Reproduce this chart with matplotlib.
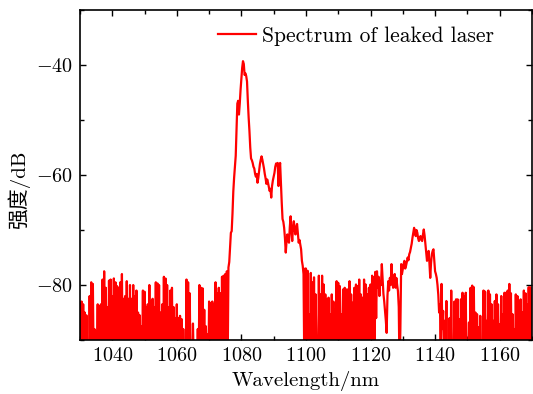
import numpy as np
import matplotlib
matplotlib.use('Agg')
import matplotlib.pyplot as plt
from matplotlib.ticker import MultipleLocator

step = 0.25
segment_start = [1030.0, 1076.5, 1100.0, 1122.0, 1146.0]

# noise floor left of the main peak (1030 - 1076.25 nm)
noise_left = [
    -89, -95, -83, -96, -83.5, -94, -85, -97,
    -85.5, -95, -92, -96, -82, -94, -79.5, -97,
    -79.8, -95, -88, -96, -88.5, -93, -83.5, -97,
    -83.8, -95, -83.5, -96, -79, -94, -77.5, -97,
    -80.5, -95, -84, -96, -79.2, -93, -79, -97,
    -82, -95, -78.8, -96, -79.5, -94, -80.2, -97,
    -80.5, -95, -79.5, -96, -78, -93, -82.5, -97,
    -82, -95, -79.3, -96, -82.5, -94, -80, -97,
    -82.5, -95, -80, -96, -82, -93, -81, -97,
    -85, -95, -85.5, -96, -87.5, -94, -81, -97,
    -81.2, -95, -84, -96, -83.5, -93, -80, -97,
    -83, -95, -82.5, -96, -84, -94, -79.5, -97,
    -79.7, -95, -80, -96, -85, -93, -83.5, -97,
    -78.5, -95, -78.8, -96, -80, -94, -84, -97,
    -81, -95, -80.5, -96, -84, -93, -86, -97,
    -83.5, -95, -86, -96, -85.6, -94, -86.2, -97,
    -88, -95, -92, -96, -79, -93, -79.5, -97,
    -81.5, -95, -93, -96, -87, -94, -93, -97,
    -94, -95, -88, -96, -80, -93, -80.5, -97,
    -80.6, -95, -84.5, -96, -87.5, -94, -89, -97,
    -83, -95, -83.3, -96, -83, -93, -83.5, -97,
    -79.5, -95, -81.5, -96, -80.5, -94, -81.5, -97,
    -78.5, -95, -78.3, -96, -78, -93, -77.5, -95,
    -76.8, -75.8,
]

# main peak (1076.5 - 1099.75 nm)
main_peak = [
    -73, -70.5, -70.2, -67, -63, -60.5, -58.5, -56.5,
    -52, -47, -46.5, -49, -47, -44.5, -42.5, -40.5,
    -39.3, -39.8, -41.8, -41.5, -42, -43, -46.5, -49.5,
    -52, -55, -57, -57.3, -57.8, -58.5, -58.8, -59.8,
    -60.3, -59.8, -61.4, -60.5, -59.3, -58, -57.2, -56.6,
    -57.2, -58, -58.8, -59.8, -60.6, -61.6, -60.8, -61.4,
    -62.2, -62.9, -62.5, -64.1, -62, -61, -60.3, -59.6,
    -58.5, -57.9, -58.2, -57.8, -62, -59, -57.8, -61.6,
    -65, -68, -68.5, -69.6, -71.5, -74.1, -72, -70.8,
    -71.8, -72.3, -69.5, -67.5, -70, -72, -69.5, -68.4,
    -69.8, -70.8, -69.5, -68.9, -70.5, -72.3, -71.8, -72.6,
    -73.5, -75.6, -76.5, -78, -95, -77,
]

# noise between the peaks (1100 - 1121.75 nm)
noise_mid = [
    -77, -95, -77.4, -96, -85.3, -94, -77.8, -97,
    -79.5, -95, -78.6, -96, -81.7, -93, -92, -97,
    -78.3, -95, -81.7, -96, -78.3, -94, -79.9, -97,
    -81.7, -95, -82.6, -96, -82.3, -93, -85.3, -97,
    -81.7, -95, -83, -96, -84.4, -94, -79.3, -97,
    -79.6, -95, -80.2, -96, -85.3, -93, -80.8, -97,
    -80.5, -95, -80.8, -96, -80.8, -94, -79.3, -97,
    -81.7, -95, -83.2, -96, -80.5, -93, -79.9, -97,
    -80.2, -95, -79, -96, -81.7, -94, -82.3, -97,
    -79, -95, -79.9, -96, -81.7, -93, -80.5, -97,
    -79.9, -95, -78.3, -96, -78.6, -94, -77.6, -86,
]

# second hump near 1135 nm (1122 - 1145.75 nm)
hump = [
    -77.5, -80.5, -78.5, -82, -79.3, -80, -76.2, -79,
    -81.6, -83, -84.7, -86.5, -88.7, -82, -79.3, -81,
    -78.7, -80, -76.2, -79, -80.5, -79, -78, -80.5,
    -78.7, -80, -81.1, -84, -96, -88, -76.2, -78,
    -77.1, -76.2, -75.6, -77, -76.5, -75.8, -75, -75.5,
    -74.4, -74, -73.2, -72.5, -71.4, -70.5, -69.6, -70.3,
    -71.1, -70, -70.5, -71.5, -72, -71.3, -71.1, -71.8,
    -72, -70.8, -69.9, -71, -72.6, -74, -75.6, -74.5,
    -73.8, -76, -78.7, -76, -74.4, -73.8, -73.5, -75.5,
    -77.5, -78, -78.7, -80, -81.8, -85, -83.5, -92,
    -79.8, -88, -84.7, -94, -86.5, -95, -82.9, -96,
    -93, -95, -86, -97, -81, -94, -92, -96,
]

# noise floor right of the hump (1146 - 1170 nm)
noise_right = [
    -83, -95, -82.6, -96, -82.6, -94, -86.2, -97,
    -82.6, -95, -81.4, -96, -82, -93, -81.4, -97,
    -93, -95, -86.8, -96, -80.5, -94, -80.1, -97,
    -80.4, -95, -85, -96, -85.3, -93, -87.7, -97,
    -85.6, -95, -93, -96, -81, -94, -81.2, -97,
    -86.5, -95, -81, -96, -81.7, -93, -83.5, -97,
    -86.5, -95, -82.9, -96, -81.7, -94, -83.5, -97,
    -87.1, -95, -82, -96, -85.3, -93, -81.4, -97,
    -81.4, -95, -81, -96, -79.8, -94, -81.5, -97,
    -85.3, -95, -88, -96, -81.7, -93, -82, -97,
    -82.9, -95, -82.6, -96, -85, -94, -81, -97,
    -81.5, -95, -83.5, -96, -80.4, -93, -80.4, -97,
    -82,
]

segments = [noise_left, main_peak, noise_mid, hump, noise_right]
wavelength = np.concatenate([s0 + step * np.arange(len(seg))
                             for s0, seg in zip(segment_start, segments)])
intensity = np.concatenate([np.array(seg, dtype=float) for seg in segments])

plt.rcParams['font.family'] = ['cmr10', 'Noto Sans CJK SC']
plt.rcParams['mathtext.fontset'] = 'cm'
plt.rcParams['axes.formatter.use_mathtext'] = True
plt.rcParams['axes.unicode_minus'] = True

fig = plt.figure(figsize=(5.33, 3.94), dpi=100)
ax = fig.add_axes([0.150, 0.137, 0.848, 0.8375])

ax.plot(wavelength, intensity, color='red', lw=1.6, label='Spectrum of leaked laser')

ax.set_xlim(1030, 1170)
ax.set_ylim(-90, -30)
ax.xaxis.set_major_locator(MultipleLocator(20))
ax.xaxis.set_minor_locator(MultipleLocator(10))
ax.yaxis.set_major_locator(MultipleLocator(20))
ax.yaxis.set_minor_locator(MultipleLocator(10))
ax.tick_params(which='both', direction='in', top=True, right=True, width=1.0)
ax.tick_params(which='major', length=4.5, labelsize=14.5, pad=5)
ax.tick_params(which='minor', length=3)
for sp in ax.spines.values():
    sp.set_linewidth(1.2)

ax.set_xlabel('Wavelength/nm', fontsize=15)
ax.set_ylabel('强度/dB', fontsize=15)
ax.yaxis.set_label_coords(-0.11, 0.455)

ax.legend(loc='upper right', bbox_to_anchor=(0.96, 1.01), frameon=False,
          fontsize=15.5, handlelength=1.75, handletextpad=0.3)

fig.savefig('out.png', dpi=100)
